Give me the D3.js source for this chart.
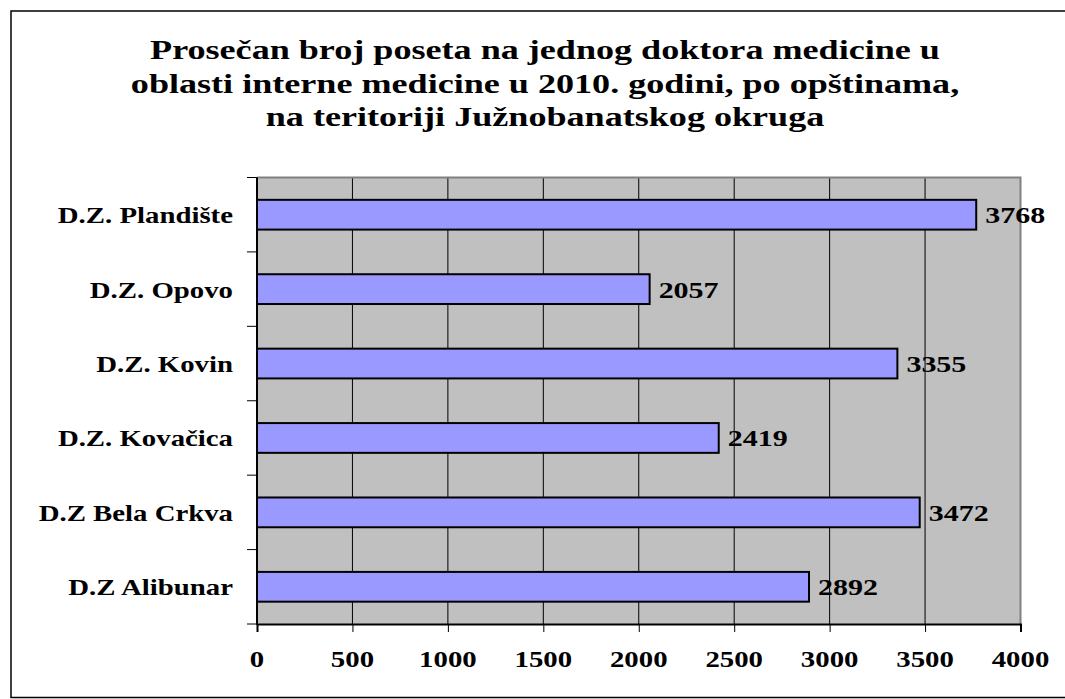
<!DOCTYPE html>
<html>
<head>
<meta charset="utf-8">
<title>Prosečan broj poseta</title>
<script src="https://cdn.jsdelivr.net/npm/d3@7/dist/d3.min.js"></script>
<style>
  body { margin: 0; background: #fff; }
  text { font-family: "Liberation Serif", "Times New Roman", serif; font-weight: bold; fill: #000; }
</style>
</head>
<body>
<div id="chart"></div>
<script>
// data (top to bottom)
var categories = ["D.Z. Plandište", "D.Z. Opovo", "D.Z. Kovin", "D.Z. Kovačica", "D.Z Bela Crkva", "D.Z Alibunar"];
var visits = [3768, 2057, 3355, 2419, 3472, 2892];
var xTicks = [0, 500, 1000, 1500, 2000, 2500, 3000, 3500, 4000];
var titleLines = [
  "Prosečan broj poseta na jednog doktora medicine u",
  "oblasti interne medicine u 2010. godini, po opštinama,",
  "na teritoriji Južnobanatskog okruga"
];

var W = 1065, H = 699;
var plot = {left: 257, top: 177.5, right: 1020.5, bottom: 624};

var svg = d3.select("#chart").append("svg")
  .attr("width", W).attr("height", H);

// outer frame (right edge falls off the picture)
svg.append("rect")
  .attr("x", 11).attr("y", 11)
  .attr("width", 1070).attr("height", 686.5)
  .attr("fill", "#fff").attr("stroke", "#000").attr("stroke-width", 1.5);

// the original picture is stretched sideways, so text gets a horizontal scale
function stext(g, x, y, str, size, sx, anchor) {
  return g.append("text")
    .attr("transform", "translate(" + x + "," + y + ") scale(" + sx + ",1)")
    .attr("text-anchor", anchor)
    .style("font-size", size + "px")
    .text(str);
}

// title
titleLines.forEach(function(t, i) {
  stext(svg, 545, 59 + i * 33.5, t, 28, 1.29, "middle");
});

var x = d3.scaleLinear().domain([0, 4000]).range([plot.left, plot.right]);
var y = d3.scaleBand().domain(categories)
  .range([plot.top, plot.bottom])
  .paddingInner(0.6).paddingOuter(0.3);

// plot background
svg.append("rect")
  .attr("x", plot.left).attr("y", plot.top)
  .attr("width", plot.right - plot.left).attr("height", plot.bottom - plot.top)
  .attr("fill", "#c0c0c0");

// vertical gridlines
svg.append("g").selectAll("line")
  .data(xTicks.slice(1, -1))
  .join("line")
  .attr("x1", function(d) { return x(d); }).attr("x2", function(d) { return x(d); })
  .attr("y1", plot.top).attr("y2", plot.bottom)
  .attr("stroke", "#000").attr("stroke-width", 1);

// top and right border of plot area
svg.append("path")
  .attr("d", "M" + plot.left + "," + plot.top + "H" + plot.right + "V" + plot.bottom)
  .attr("fill", "none").attr("stroke", "#808080").attr("stroke-width", 2);

// bars
svg.append("g").selectAll("rect")
  .data(visits)
  .join("rect")
  .attr("x", x(0))
  .attr("y", function(d, i) { return y(categories[i]); })
  .attr("width", function(d) { return x(d) - x(0); })
  .attr("height", y.bandwidth())
  .attr("fill", "#9999ff")
  .attr("stroke", "#000").attr("stroke-width", 2);

// x axis
var xAxis = d3.axisBottom(x).tickValues(xTicks).tickSize(8).tickFormat("");
var gx = svg.append("g")
  .attr("transform", "translate(0," + plot.bottom + ")")
  .call(xAxis);
gx.select(".domain").attr("stroke", "#000").attr("stroke-width", 2);
gx.selectAll(".tick line").attr("stroke", "#000").attr("stroke-width", 1);

xTicks.forEach(function(t) {
  stext(svg, x(t), 667, String(t), 24, 1.2, "middle");
});

// y axis: ticks sit on the category boundaries
var step = y.step();
var bounds = d3.range(categories.length + 1).map(function(i) { return plot.top + i * step; });
svg.append("g").selectAll("line")
  .data(bounds)
  .join("line")
  .attr("x1", plot.left - 10).attr("x2", plot.left)
  .attr("y1", function(d) { return d; }).attr("y2", function(d) { return d; })
  .attr("stroke", "#000").attr("stroke-width", 1);
svg.append("line")
  .attr("x1", plot.left).attr("x2", plot.left)
  .attr("y1", plot.top).attr("y2", plot.bottom + 1)
  .attr("stroke", "#000").attr("stroke-width", 2);

categories.forEach(function(c) {
  stext(svg, 233, y(c) + y.bandwidth() / 2 + 8.5, c, 24, 1.2, "end");
});

// value labels
visits.forEach(function(v, i) {
  stext(svg, x(v) + 9, y(categories[i]) + y.bandwidth() / 2 + 8.5, String(v), 24, 1.25, "start");
});
</script>
</body>
</html>
